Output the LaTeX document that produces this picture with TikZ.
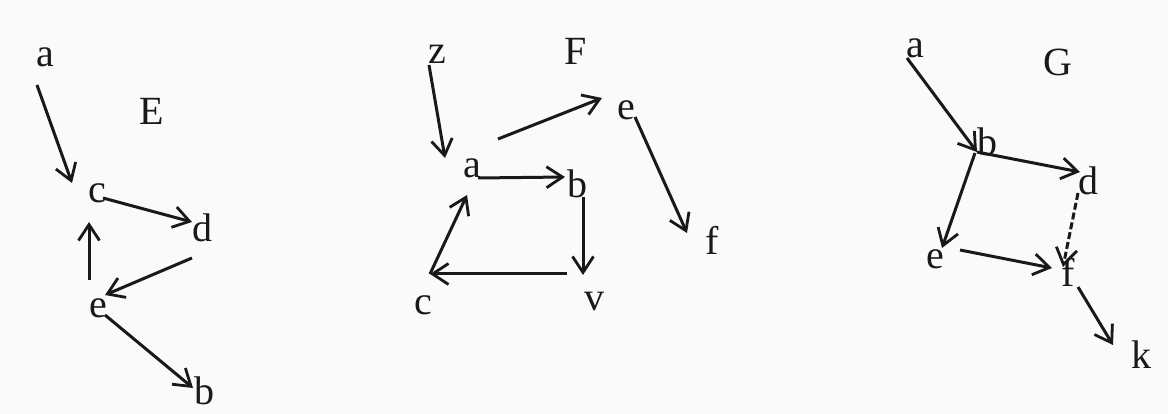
\documentclass[tikz,border=0pt]{standalone}
\usepackage{fontspec}
\setmainfont{Liberation Serif}
\usetikzlibrary{arrows.meta}
\definecolor{bg}{RGB}{250,250,250}
\definecolor{ink}{RGB}{25,25,25}
\begin{document}
\begin{tikzpicture}[x=1pt,y=-1pt,
  lbl/.style={inner sep=0pt,text=ink,font=\fontsize{40}{41}\selectfont},
  arr/.style={draw=ink,line width=3pt,-{Straight Barb[length=16pt,width=21pt,line width=2.8pt]}},
  dsh/.style={arr,dash pattern=on 7pt off 3pt}]
\fill[bg] (0,0) rectangle (1168,414);
\useasboundingbox (0,0) rectangle (1168,414);
% Graph E
\node[lbl] (Ea) at (45,57) {a};
\node[lbl] (ET) at (152,111) {E};
\node[lbl] (Ec) at (97,193) {c};
\node[lbl] (Ed) at (202,228) {d};
\node[lbl] (Ee) at (98,308) {e};
\node[lbl] (Eb) at (204,391) {b};
\draw[arr] ([shift={(-8,28)}]Ea.center) -- ([shift={(-25,-10)}]Ec.center);
\draw[arr] ([shift={(6,5)}]Ec.center) -- ([shift={(-10,-6)}]Ed.center);
\draw[arr] ([shift={(-9,-28)}]Ee.center) -- ([shift={(-8,29)}]Ec.center);
\draw[arr] ([shift={(-10,30)}]Ed.center) -- ([shift={(7,-13)}]Ee.center);
\draw[arr] ([shift={(7,7)}]Ee.center) -- ([shift={(-11,-3)}]Eb.center);
% Graph F
\node[lbl] (Fz) at (437,54) {z};
\node[lbl] (FT) at (576,51) {F};
\node[lbl] (Fe) at (626,110) {e};
\node[lbl] (Fa) at (472,168) {a};
\node[lbl] (Fb) at (577,184) {b};
\node[lbl] (Ff) at (712,240) {f};
\node[lbl] (Fc) at (423,305) {c};
\node[lbl] (Fv) at (594,302) {v};
\draw[arr] ([shift={(-8,11)}]Fz.center) -- ([shift={(-27,-10)}]Fa.center);
\draw[arr] ([shift={(26,-29)}]Fa.center) -- ([shift={(-24,-12)}]Fe.center);
\draw[arr] ([shift={(6,10)}]Fa.center) -- ([shift={(-12,-7)}]Fb.center);
\draw[arr] ([shift={(6,13)}]Fb.center) -- ([shift={(-11,-27)}]Fv.center);
\draw[arr] ([shift={(-27,-28)}]Fv.center) -- ([shift={(7,-31)}]Fc.center);
\draw[arr] ([shift={(7,-31)}]Fc.center) -- ([shift={(-5,27)}]Fa.center);
\draw[arr] ([shift={(9,7)}]Fe.center) -- ([shift={(-25,-7)}]Ff.center);
% Graph G
\node[lbl] (Ga) at (915,48) {a};
\node[lbl] (GT) at (1058,62) {G};
\node[lbl] (Gb) at (987,142) {b};
\node[lbl] (Gd) at (1088,181) {d};
\node[lbl] (Ge) at (935,259) {e};
\node[lbl] (Gf) at (1068,272) {f};
\node[lbl] (Gk) at (1141,355) {k};
\draw[arr] ([shift={(-8,10)}]Ga.center) -- ([shift={(-10,10)}]Gb.center);
\draw[arr] ([shift={(-10,10)}]Gb.center) -- ([shift={(-8,-9)}]Gd.center);
\draw[arr] ([shift={(-12,11)}]Gb.center) -- ([shift={(7,-11)}]Ge.center);
\draw[dsh] ([shift={(-10,12)}]Gd.center) -- ([shift={(-5,-5)}]Gf.center);
\draw[arr] ([shift={(25,-9)}]Ge.center) -- ([shift={(-16,-4)}]Gf.center);
\draw[arr] ([shift={(10,15)}]Gf.center) -- ([shift={(-28,-10)}]Gk.center);
\end{tikzpicture}
\end{document}
